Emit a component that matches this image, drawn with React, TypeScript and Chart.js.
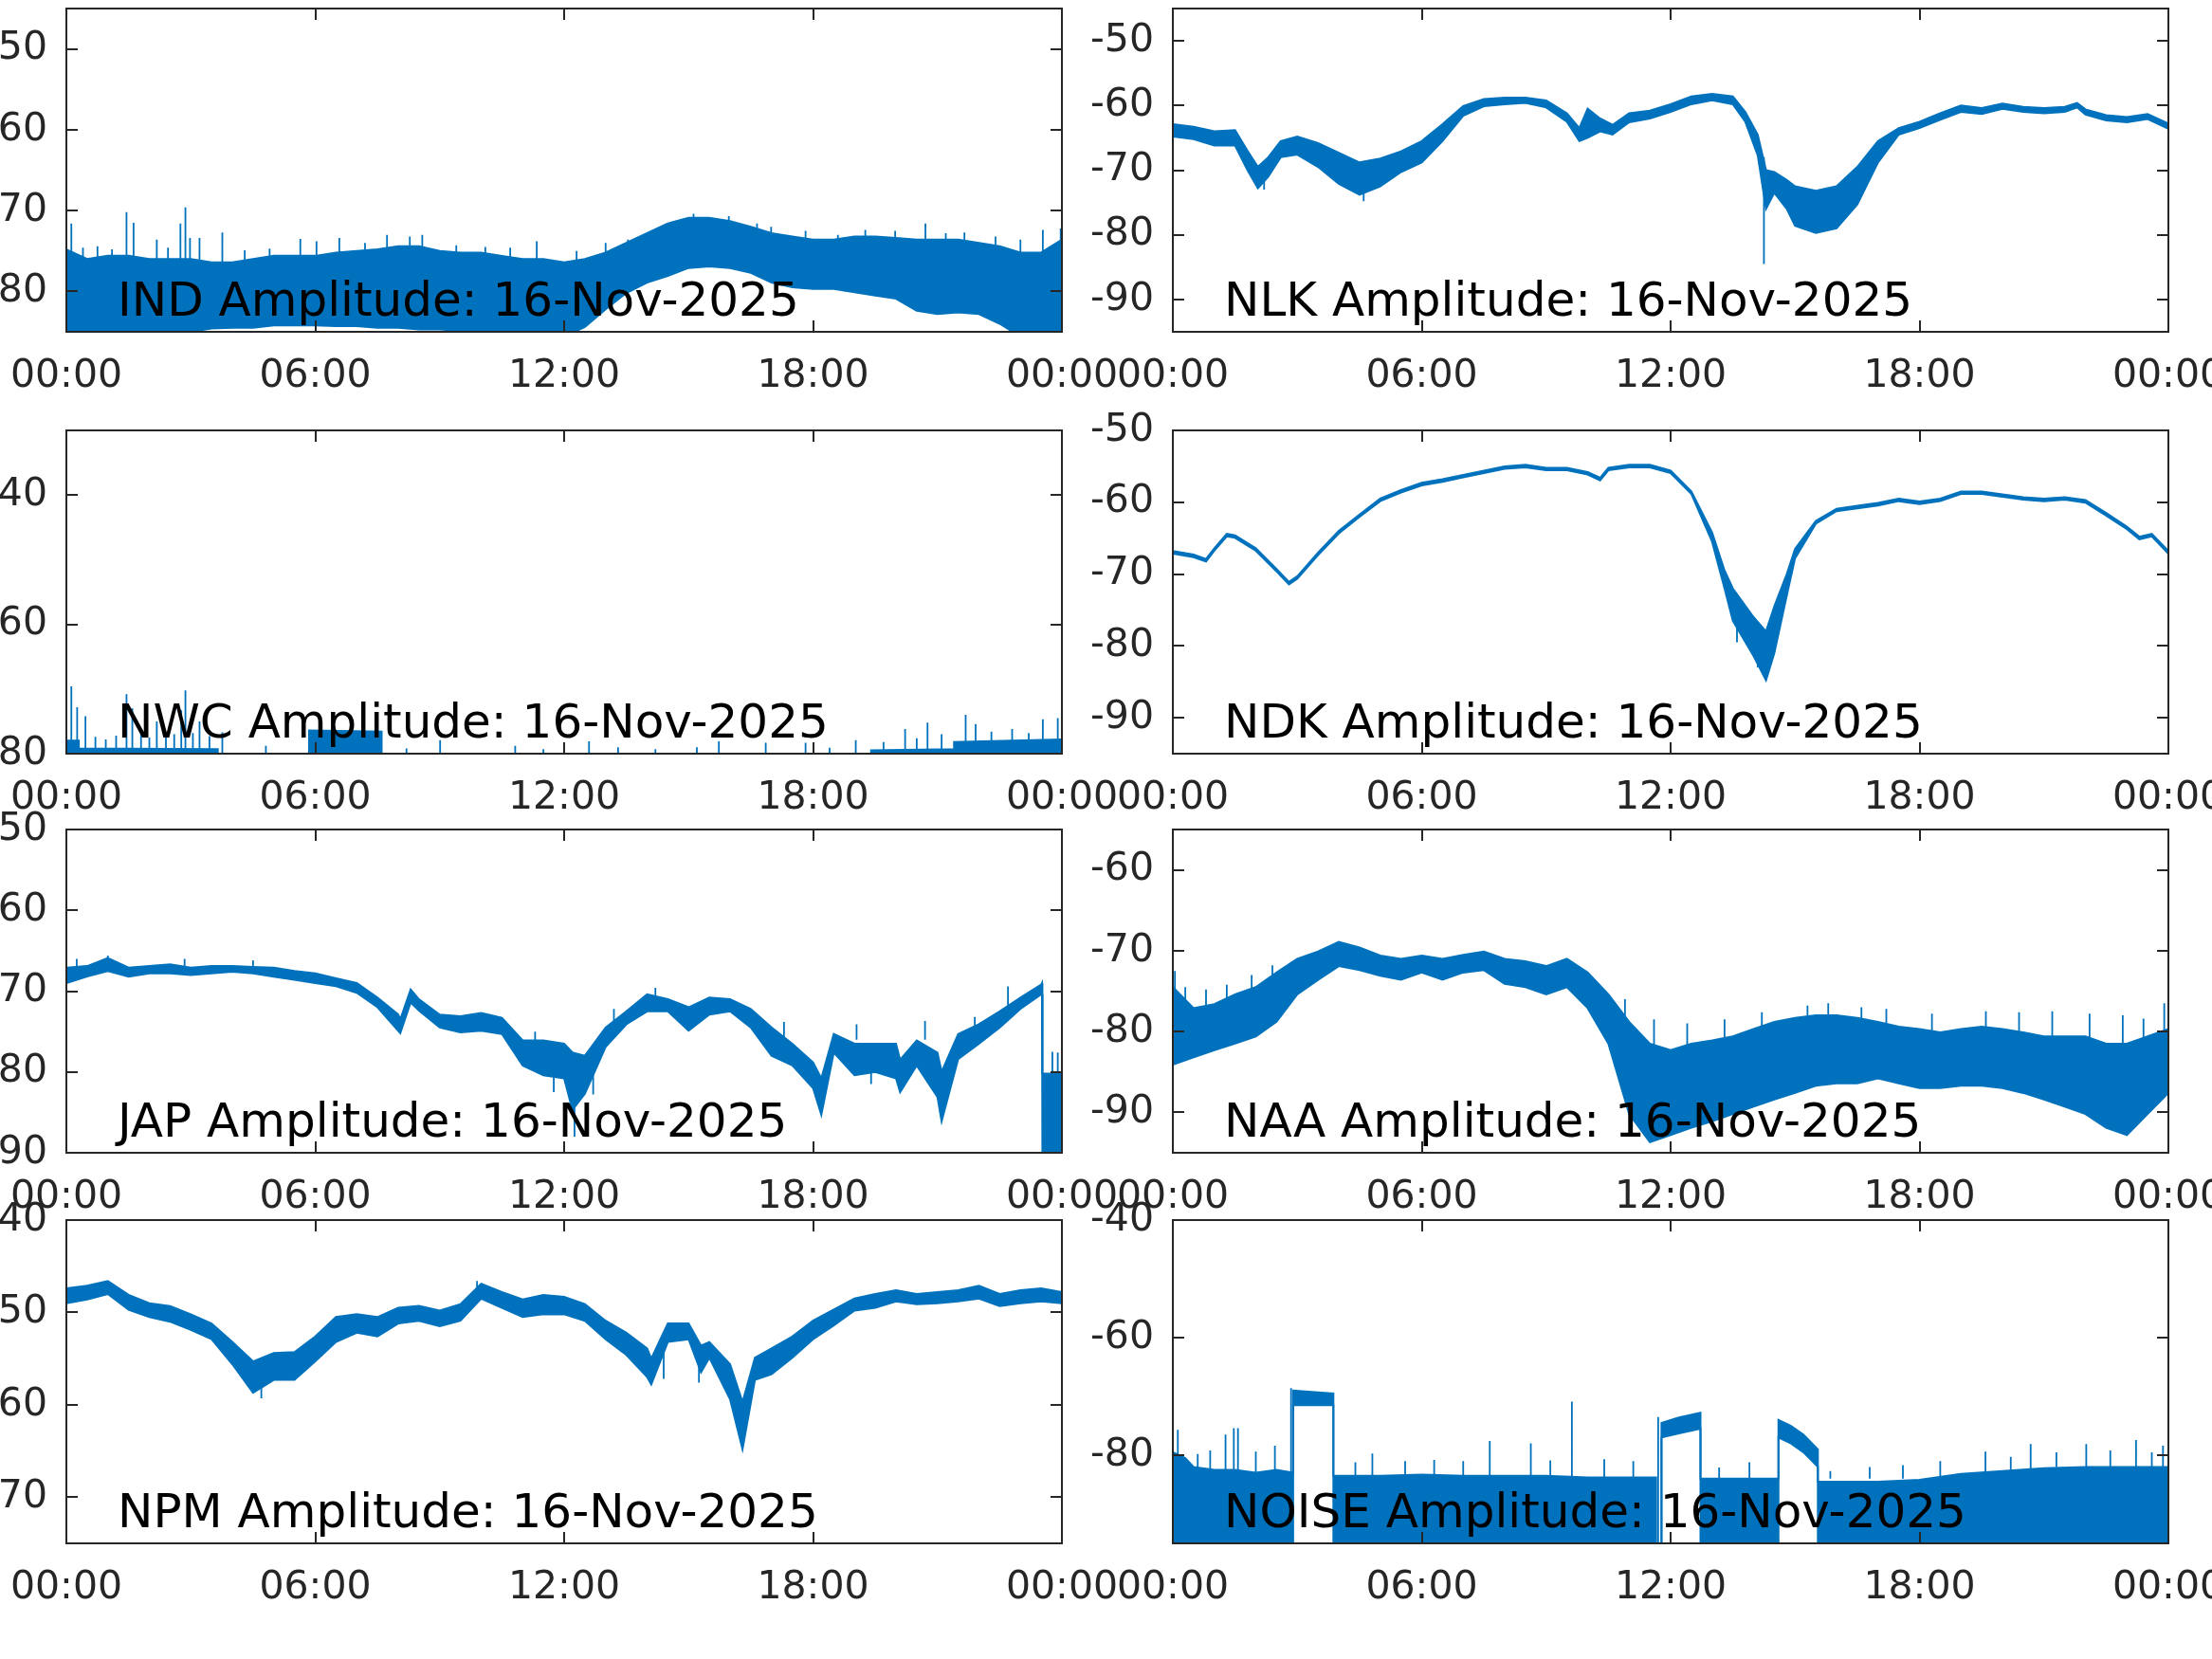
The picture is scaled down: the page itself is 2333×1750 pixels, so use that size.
import React, { useEffect, useRef } from "react";
import { Chart, registerables } from "chart.js";

Chart.register(...registerables);

// ---------------- shared axis data ----------------
const X_TICKS = [0, 6, 12, 18, 24];
const X_TICK_LABELS = ["00:00", "06:00", "12:00", "18:00", "00:00"];
const DATE_TEXT = "Amplitude: 16-Nov-2025";
const HALF_HOURS = [
  0, 0.5, 1, 1.5, 2, 2.5, 3, 3.5, 4, 4.5, 5, 5.5, 6, 6.5, 7, 7.5, 8, 8.5, 9, 9.5, 10, 10.5, 11, 11.5, 12,
  12.5, 13, 13.5, 14, 14.5, 15, 15.5, 16, 16.5, 17, 17.5, 18, 18.5, 19, 19.5, 20, 20.5, 21, 21.5, 22, 22.5,
  23, 23.5, 24,
];

// ---------------- IND ----------------
const IND_T = HALF_HOURS;
const IND_HI = [
  -74.8, -76, -75.6, -75.6, -76, -76, -76, -76.4, -76.4, -76, -75.6, -75.6, -75.6, -75.2, -75, -74.8, -74.4,
  -74.4, -75, -75.2, -75.2, -75.6, -76, -76, -76.4, -76, -75.2, -74, -72.8, -71.6, -70.9, -70.9, -71.3, -72,
  -72.8, -73.2, -73.6, -73.6, -73.2, -73.2, -73.4, -73.6, -73.6, -73.6, -74, -74.4, -75.2, -75.2, -73.6,
];
const IND_LO = [
  -86, -86, -86, -86, -86, -85.4, -85, -84.6, -84.5, -84.5, -84.2, -84.2, -84.2, -84.3, -84.3, -84.5,
  -84.5, -84.7, -84.7, -84.9, -84.9, -85.1, -85.3, -85.6, -85.6, -84.4, -82.2, -80.2, -78.9, -78.1, -77.1, -76.9,
  -77.1, -77.7, -78.9, -79.5, -79.7, -79.7, -80.1, -80.5, -80.9, -82.4, -82.8, -82.6, -82.8, -84.0, -85.6,
  -85.6, -85.6,
];
// [time, base, top]
const IND_SPIKES = [
  [0.12, -78, -71.6], [0.4, -78, -74.6], [0.75, -78, -74.4], [1.1, -78, -74.8], [1.45, -78, -70.2],
  [1.62, -78, -71.5], [2.18, -78, -73.6], [2.45, -78, -74.6], [2.75, -78, -71.6], [2.87, -78, -69.6],
  [2.98, -78, -73.4], [3.21, -78, -73.4], [3.76, -78, -72.7], [4.3, -78, -74.9], [4.9, -78, -74.7],
  [5.64, -78, -73.5], [6.03, -78, -73.8], [6.58, -78, -73.4], [7.2, -77, -74.0], [7.73, -77, -73.0],
  [8.28, -77, -73.2], [8.58, -77, -73.0], [9.4, -78, -74.3], [10.1, -78, -74.5], [10.7, -78, -74.6],
  [11.34, -78, -73.8], [12.3, -78, -75.0], [13.0, -77, -74.0], [13.54, -77, -73.6], [13.96, -75, -73.4],
  [14.4, -74, -71.8], [15.12, -73, -70.4], [15.97, -73, -70.7], [16.65, -74, -71.6], [16.99, -75, -72.0],
  [17.82, -75, -72.5], [18.6, -75, -73.0], [19.26, -75, -72.4], [19.98, -75, -72.5], [20.71, -75, -71.6],
  [21.2, -75, -72.8], [21.65, -75, -72.7], [22.4, -76, -73.2], [23.0, -77, -73.6], [23.54, -77, -72.4],
  [23.97, -77, -72.2],
];
const IND_Y_TICKS = [-80, -70, -60, -50];
const IND_Y_RANGE = [-85, -45];

// ---------------- NLK ----------------
const NLK_T = [
  0, 0.5, 1, 1.5, 1.8, 2.05, 2.3, 2.6, 3, 3.5, 4, 4.5, 5, 5.5, 6, 6.5, 7, 7.5, 8, 8.5, 9, 9.5, 9.8, 10, 10.3,
  10.6, 11, 11.5, 12, 12.5, 13, 13.5, 13.8, 14.1, 14.3, 14.5, 14.8, 15, 15.5, 16, 16.5, 17, 17.5, 18, 18.5,
  19, 19.5, 20, 20.5, 21, 21.5, 21.8, 22, 22.5, 23, 23.5, 24,
];
const NLK_HI = [
  -62.9, -63.3, -64.0, -63.8, -67.0, -69.5, -68.0, -65.5, -64.8, -65.8, -67.3, -68.8, -68.2, -67.1, -65.5,
  -62.9, -60.1, -59.0, -58.8, -58.8, -59.2, -61.2, -63.5, -60.5, -62.0, -63.0, -61.2, -60.8, -59.8, -58.6,
  -58.2, -58.6, -61.0, -64.5, -70.0, -70.3, -71.5, -72.5, -73.2, -72.5, -69.5, -65.5, -63.5, -62.5, -61.2,
  -60.0, -60.4, -59.7, -60.2, -60.4, -60.2, -59.6, -60.6, -61.5, -61.8, -61.3, -62.8,
];
const NLK_LO = [
  -64.8, -65.2, -66.2, -66.2, -70.0, -72.8, -71.0, -68.0, -67.6, -69.5, -72.1, -73.8, -72.5, -70.3, -68.8,
  -65.5, -61.6, -60.1, -59.8, -59.6, -60.3, -62.5, -65.5, -65.0, -64.0, -64.5, -62.6, -62.0, -61.0, -59.8,
  -59.2, -59.8, -62.5, -67.7, -76.0, -73.5, -76.0, -78.6, -79.7, -79.0, -75.3, -68.8, -64.5, -63.5, -62.2,
  -61.0, -61.3, -60.5, -61.0, -61.2, -61.0, -60.3, -61.4, -62.3, -62.6, -62.1, -63.6,
];
const NLK_SPIKES = [[14.25, -68, -84.5], [10.0, -63, -60.6], [2.2, -70, -73.0], [4.6, -72, -74.8]];
const NLK_Y_TICKS = [-90, -80, -70, -60, -50];
const NLK_Y_RANGE = [-95, -45];

// ---------------- NWC ----------------
const NWC_T = [0, 0.3, 0.3, 3.65, 3.65, 5.85, 5.85, 7.6, 7.6, 19.4, 19.4, 21.4, 21.4, 24];
const NWC_HI = [-78.0, -78.0, -79.2, -79.3, -82, -82, -76.4, -76.6, -82, -82, -79.5, -79.3, -78.2, -77.8];
const NWC_LO = [-83, -83, -83, -83, -83, -83, -83, -83, -83, -83, -83, -83, -83, -83];
const NWC_SPIKES = [
  [0.12, -81, -69.6], [0.26, -81, -72.8], [0.46, -81, -74.2], [0.7, -81, -77.4], [0.95, -81, -77.8],
  [1.2, -81, -77.2], [1.45, -81, -70.8], [1.59, -81, -73.0], [1.8, -81, -76.9], [2.0, -81, -77.5],
  [2.18, -81, -75.0], [2.4, -81, -76.6], [2.6, -81, -77.0], [2.77, -81, -73.3], [2.87, -81, -70.2],
  [3.05, -81, -76.8], [3.21, -81, -75.0], [3.45, -81, -77.3], [3.76, -81, -76.7], [4.81, -81, -78.8],
  [8.2, -81, -79.2], [9.01, -81, -77.9], [10.82, -81, -78.8], [11.5, -81, -79.3], [12.6, -81, -78.1],
  [13.3, -81, -79.0], [14.2, -81, -79.3], [15.2, -81, -79.0], [15.73, -81, -78.1], [16.86, -81, -78.3],
  [17.82, -81, -78.3], [18.4, -81, -79.1], [19.03, -81, -77.9], [19.7, -81, -78.2], [20.22, -81, -76.2],
  [20.5, -81, -77.6], [20.76, -81, -75.2], [21.1, -81, -77.0], [21.68, -81, -74.0], [21.92, -81, -75.4],
  [22.3, -81, -76.6], [22.8, -81, -76.2], [23.2, -81, -76.8], [23.54, -81, -74.7], [23.9, -81, -74.5],
];
const NWC_Y_TICKS = [-80, -60, -40];
const NWC_Y_RANGE = [-80, -30];

// ---------------- NDK ----------------
const NDK_T = [
  0, 0.5, 0.8, 1, 1.3, 1.5, 2, 2.5, 2.8, 3, 3.5, 4, 4.5, 5, 5.5, 6, 6.5, 7, 7.5, 8, 8.5, 9, 9.5, 10, 10.3, 10.5,
  11, 11.5, 12, 12.5, 13, 13.3, 13.5, 14, 14.3, 14.5, 14.8, 15, 15.5, 16, 16.5, 17, 17.5, 18, 18.5, 19, 19.5,
  20, 20.5, 21, 21.5, 22, 22.5, 23, 23.3, 23.6, 24,
];
const NDK_HI = [
  -66.8, -67.3, -67.9, -66.4, -64.4, -64.6, -66.4, -69.3, -71.1, -70.3, -67.0, -64.0, -61.7, -59.5, -58.3,
  -57.3, -56.8, -56.2, -55.6, -55.0, -54.8, -55.2, -55.2, -55.8, -56.6, -55.2, -54.8, -54.8, -55.6, -58.5,
  -64.2, -69.5, -72.0, -76.0, -78.0, -74.5, -70.0, -66.5, -62.6, -60.9, -60.5, -60.1, -59.5, -59.9, -59.5,
  -58.5, -58.5, -58.9, -59.3, -59.5, -59.3, -59.7, -61.5, -63.4, -64.8, -64.4, -66.8,
];
const NDK_LO = [
  -67.15, -67.65, -68.25, -66.75, -64.75, -64.95, -66.75, -69.65, -71.45, -70.65, -67.35, -64.35, -62.05,
  -59.85, -58.65, -57.65, -57.15, -56.55, -55.95, -55.35, -55.15, -55.55, -55.55, -56.15, -56.95, -55.55,
  -55.15, -55.15, -55.95, -58.85, -65.5, -72.0, -76.5, -81.4, -84.8, -81.0, -73.0, -67.8, -63.0, -61.25,
  -60.85, -60.45, -59.85, -60.25, -59.85, -58.85, -58.85, -59.25, -59.65, -59.85, -59.65, -60.05, -61.85,
  -63.75, -65.15, -64.75, -67.15,
];
const NDK_SPIKES = [[13.6, -76, -79.5], [14.1, -79, -83.0]];
const NDK_Y_TICKS = [-90, -80, -70, -60, -50];
const NDK_Y_RANGE = [-95, -50];

// ---------------- JAP ----------------
const JAP_T = [
  0, 0.5, 1, 1.5, 2, 2.5, 3, 3.5, 4, 4.5, 5, 5.5, 6, 6.5, 7, 7.5, 8, 8.05, 8.3, 8.5, 9, 9.5, 10, 10.5, 11, 11.5,
  12, 12.2, 12.5, 13, 13.5, 14, 14.5, 15, 15.5, 16, 16.5, 17, 17.5, 18, 18.2, 18.5, 19, 19.5, 20, 20.1, 20.5,
  21, 21.1, 21.5, 22, 22.5, 23, 23.5, 23.52, 23.53, 24,
];
const JAP_HI = [
  -67.1, -66.9, -65.9, -67.1, -66.9, -66.7, -67.1, -66.9, -66.9, -67.0, -67.1, -67.5, -67.8, -68.4, -69.0,
  -70.8, -72.9, -73.5, -69.8, -71.0, -72.9, -73.1, -72.7, -73.3, -76.1, -76.1, -76.5, -77.6, -78.0, -74.5,
  -72.5, -70.4, -71.0, -72.0, -70.8, -71.0, -72.2, -74.5, -76.5, -78.8, -80.8, -75.3, -76.5, -76.5, -76.5,
  -78.5, -76.1, -77.6, -80.0, -75.3, -74.1, -72.5, -70.8, -69.2, -69.0, -80.2, -80.2,
];
const JAP_LO = [
  -69.0, -68.2, -67.5, -68.2, -67.8, -67.8, -68.0, -67.8, -67.6, -67.8, -68.2, -68.6, -69.0, -69.4, -70.2,
  -72.0, -74.9, -75.2, -71.4, -72.4, -74.5, -75.1, -74.9, -75.3, -79.2, -80.4, -80.8, -84.7, -82.7, -76.9,
  -74.1, -72.5, -72.5, -74.9, -72.9, -72.5, -74.5, -78.0, -79.2, -82.0, -85.3, -77.6, -80.4, -80.0, -80.8,
  -82.5, -79.2, -83.1, -86.1, -78.4, -76.5, -74.5, -72.2, -70.4, -70.4, -91, -91,
];
const JAP_SPIKES = [
  [0.25, -68, -66.0], [1.0, -67, -65.6], [2.85, -67, -66.0], [4.5, -67, -66.2], [11.3, -78, -75.0],
  [11.75, -79, -82.5], [12.25, -80, -88.0], [12.7, -79, -82.8], [13.2, -74, -72.2], [14.2, -71, -69.6],
  [17.3, -76, -73.8], [19.05, -76, -74.1], [19.4, -78, -81.5], [20.7, -76, -73.7], [21.9, -75, -73.2],
  [22.7, -72, -69.4], [23.77, -82, -77.5], [23.9, -82, -77.6],
];
const JAP_Y_TICKS = [-90, -80, -70, -60, -50];
const JAP_Y_RANGE = [-90, -50];

// ---------------- NAA ----------------
const NAA_T = HALF_HOURS;
const NAA_HI = [
  -74.5, -77.1, -76.6, -75.4, -74.5, -72.7, -71.0, -70.1, -68.9, -69.6, -70.6, -71.0, -70.6, -71.0, -70.5,
  -70.1, -71.0, -71.3, -71.9, -71.0, -72.7, -75.4, -78.8, -81.5, -82.3, -81.5, -81.1, -80.6, -79.7, -78.8,
  -78.3, -78.0, -78.0, -78.3, -78.8, -79.4, -79.7, -80.1, -79.7, -79.4, -79.7, -80.1, -80.6, -80.6, -80.6,
  -81.5, -81.5, -80.6, -79.7,
];
const NAA_LO = [
  -84.1, -83.2, -82.3, -81.5, -80.6, -78.8, -75.4, -73.6, -71.9, -72.4, -73.1, -73.6, -72.7, -73.6, -72.7,
  -72.4, -74.1, -74.5, -75.4, -74.5, -77.1, -81.5, -90.2, -93.7, -92.8, -91.9, -91.1, -90.2, -89.3, -88.4,
  -87.6, -86.7, -86.4, -86.4, -85.8, -86.4, -87.0, -87.0, -86.7, -86.7, -87.0, -87.6, -88.4, -89.3, -90.2,
  -91.9, -92.8, -90.2, -87.6,
];
const NAA_SPIKES = [
  [0.05, -78, -72.5], [0.3, -78, -74.5], [0.8, -78, -74.8], [1.3, -78, -74.2], [1.9, -77, -73.0],
  [2.4, -76, -71.8], [10.9, -80, -76.0], [11.6, -84, -78.5], [12.4, -84, -79.0], [13.3, -83, -78.5],
  [14.2, -82, -77.6], [15.3, -80, -76.8], [15.8, -80, -76.5], [16.6, -81, -77.0], [17.2, -81, -77.2],
  [18.3, -82, -77.8], [19.6, -81, -77.5], [20.4, -82, -77.6], [21.2, -82, -77.5], [22.1, -82, -77.8],
  [22.9, -83, -78.0], [23.4, -83, -78.4], [23.9, -82, -76.5],
];
const NAA_Y_TICKS = [-90, -80, -70, -60];
const NAA_Y_RANGE = [-95, -55];

// ---------------- NPM ----------------
const NPM_T = [
  0, 0.5, 1, 1.5, 2, 2.5, 3, 3.5, 4, 4.5, 5, 5.5, 6, 6.5, 7, 7.5, 8, 8.5, 9, 9.5, 10, 10.5, 11, 11.5, 12, 12.5,
  13, 13.5, 14, 14.1, 14.5, 15, 15.3, 15.5, 16, 16.3, 16.6, 17, 17.5, 18, 18.5, 19, 19.5, 20, 20.5, 21, 21.5,
  22, 22.5, 23, 23.5, 24,
];
const NPM_HI = [
  -47.4, -47.1, -46.6, -48.1, -49.0, -49.3, -50.2, -51.2, -53.2, -55.3, -54.4, -54.3, -52.6, -50.5, -50.2,
  -50.5, -49.5, -49.3, -49.8, -49.1, -46.9, -47.8, -48.6, -48.1, -48.3, -49.1, -50.9, -52.2, -53.9, -55.0,
  -51.2, -51.2, -53.6, -53.2, -55.6, -59.7, -54.9, -53.9, -52.6, -50.9, -49.7, -48.5, -48.0, -47.6, -48.0,
  -47.8, -47.6, -47.1, -48.0, -47.6, -47.4, -47.8,
];
const NPM_LO = [
  -49.0, -48.6, -48.0, -49.7, -50.5, -51.0, -51.9, -52.9, -55.6, -58.7, -57.3, -57.3, -55.3, -53.2, -52.2,
  -52.6, -51.2, -50.9, -51.5, -50.9, -48.5, -49.5, -50.5, -50.2, -50.2, -50.9, -52.9, -54.6, -57.0, -57.8,
  -53.2, -52.9, -56.5, -54.9, -59.4, -64.8, -57.3, -56.7, -54.9, -52.9, -51.4, -49.8, -49.5, -48.8, -49.1,
  -49.0, -48.8, -48.5, -49.3, -49.0, -48.8, -49.0,
];
const NPM_SPIKES = [[9.9, -48, -46.6], [14.4, -54, -57.2], [15.25, -55, -57.6], [4.7, -57, -59.3]];
const NPM_Y_TICKS = [-70, -60, -50, -40];
const NPM_Y_RANGE = [-75, -40];

// ---------------- NOISE ----------------
const NOISE_T = [
  0, 0.3, 0.5, 1, 1.5, 2, 2.5, 2.9, 2.9, 3.87, 3.87, 5, 6, 7, 8, 9, 10, 11, 11.65, 11.65, 11.78, 11.78, 12.2,
  12.72, 12.72, 13.5, 14.6, 14.6, 14.9, 15.2, 15.55, 15.55, 16, 17, 18, 19, 20, 21, 22, 23, 24,
];
const NOISE_HI = [
  -79.5, -80.5, -82, -82.5, -82.5, -83, -82.5, -83, -69, -69.5, -83.5, -83.5, -83.3, -83.5, -83.5, -83.5,
  -83.8, -83.8, -83.8, -96, -96, -74.5, -73.6, -72.8, -84, -84, -84, -74, -75, -76.5, -79, -84.5, -84.5,
  -84.5, -84.2, -83.2, -82.7, -82.2, -82, -82, -82,
];
const NOISE_LO = [
  -96, -96, -96, -96, -96, -96, -96, -96, -71.5, -71.5, -96, -96, -96, -96, -96, -96, -96, -96, -96, -96, -96,
  -77, -76.3, -75.5, -96, -96, -96, -77, -78, -79.5, -82, -96, -96, -96, -96, -96, -96, -96, -96, -96, -96,
];
const NOISE_SPIKES = [
  [0.12, -82, -75.7], [0.6, -83, -79.8], [0.9, -83, -79.2], [1.27, -83, -76.5], [1.47, -83, -75.4],
  [1.57, -83, -75.4], [2.0, -83, -79.4], [2.46, -83, -78.4], [2.85, -96, -68.6], [4.4, -84, -81.2],
  [4.81, -84, -79.7], [5.6, -84, -81.0], [6.3, -84, -80.8], [7.0, -84, -81.0], [7.64, -84, -77.6],
  [8.63, -84, -78.0], [9.1, -84, -80.9], [9.62, -84, -70.9], [10.4, -84, -80.7], [11.1, -84, -81.0],
  [11.7, -96, -73.5], [13.17, -84, -82.1], [13.9, -84, -81.2], [15.85, -84, -82.7], [16.8, -84, -82.0],
  [17.6, -84, -81.7], [18.5, -84, -81.0], [19.59, -83, -79.4], [20.2, -83, -80.3], [20.68, -83, -78.1],
  [21.3, -82, -79.5], [22.02, -82, -78.1], [22.6, -82, -79.2], [23.22, -82, -77.4], [23.6, -82, -79.5],
  [23.87, -82, -78.4],
];
const NOISE_Y_TICKS = [-80, -60, -40];
const NOISE_Y_RANGE = [-95, -40];

// ---------------- layout / style ----------------
const BLUE = "#0072BD";
const AXIS_COLOR = "#262626";
const FONT = "'DejaVu Sans', 'Noto Sans', sans-serif";
const ROW_TOP = [9, 454, 875, 1287];
const ROW_BOTTOM = [350, 795, 1216, 1628];
const COL_LEFT = [70, 1237];
const COL_RIGHT = [1120, 2287];
const CANVAS_X = [0, 1130];
const CANVAS_W = [1200, 1270];
const PAD_TOP = 40;
const PAD_BOTTOM = 100;
const TICK_LEN = 12;

type Panel = {
  name: string;
  t: number[];
  hi: number[];
  lo: number[];
  spikes: number[][];
  yTicks: number[];
  yRange: number[];
  row: number;
  col: number;
};

const PANELS: Panel[] = [
  { name: "IND", t: IND_T, hi: IND_HI, lo: IND_LO, spikes: IND_SPIKES, yTicks: IND_Y_TICKS, yRange: IND_Y_RANGE, row: 0, col: 0 },
  { name: "NLK", t: NLK_T, hi: NLK_HI, lo: NLK_LO, spikes: NLK_SPIKES, yTicks: NLK_Y_TICKS, yRange: NLK_Y_RANGE, row: 0, col: 1 },
  { name: "NWC", t: NWC_T, hi: NWC_HI, lo: NWC_LO, spikes: NWC_SPIKES, yTicks: NWC_Y_TICKS, yRange: NWC_Y_RANGE, row: 1, col: 0 },
  { name: "NDK", t: NDK_T, hi: NDK_HI, lo: NDK_LO, spikes: NDK_SPIKES, yTicks: NDK_Y_TICKS, yRange: NDK_Y_RANGE, row: 1, col: 1 },
  { name: "JAP", t: JAP_T, hi: JAP_HI, lo: JAP_LO, spikes: JAP_SPIKES, yTicks: JAP_Y_TICKS, yRange: JAP_Y_RANGE, row: 2, col: 0 },
  { name: "NAA", t: NAA_T, hi: NAA_HI, lo: NAA_LO, spikes: NAA_SPIKES, yTicks: NAA_Y_TICKS, yRange: NAA_Y_RANGE, row: 2, col: 1 },
  { name: "NPM", t: NPM_T, hi: NPM_HI, lo: NPM_LO, spikes: NPM_SPIKES, yTicks: NPM_Y_TICKS, yRange: NPM_Y_RANGE, row: 3, col: 0 },
  { name: "NOISE", t: NOISE_T, hi: NOISE_HI, lo: NOISE_LO, spikes: NOISE_SPIKES, yTicks: NOISE_Y_TICKS, yRange: NOISE_Y_RANGE, row: 3, col: 1 },
];

const boxPlugin = {
  id: "matlabBox",
  afterDraw(chart: any, _args: any, opts: any) {
    const { ctx, chartArea: a, scales } = chart;
    const xs = scales.x;
    const ys = scales.y;
    ctx.save();
    ctx.strokeStyle = AXIS_COLOR;
    ctx.lineWidth = 2;
    ctx.beginPath();
    for (const tk of xs.ticks) {
      const px = Math.round(xs.getPixelForValue(tk.value));
      ctx.moveTo(px, a.bottom);
      ctx.lineTo(px, a.bottom - TICK_LEN);
      ctx.moveTo(px, a.top);
      ctx.lineTo(px, a.top + TICK_LEN);
    }
    for (const tk of ys.ticks) {
      const py = Math.round(ys.getPixelForValue(tk.value));
      ctx.moveTo(a.left, py);
      ctx.lineTo(a.left + TICK_LEN, py);
      ctx.moveTo(a.right, py);
      ctx.lineTo(a.right - TICK_LEN, py);
    }
    ctx.stroke();
    ctx.strokeRect(a.left, a.top, a.right - a.left, a.bottom - a.top);
    ctx.fillStyle = "#000000";
    ctx.font = `50px ${FONT}`;
    ctx.textAlign = "left";
    ctx.textBaseline = "alphabetic";
    ctx.fillText(opts.label, a.left + 54, a.bottom - 17);
    ctx.restore();
  },
};

function PanelChart({ p }: { p: Panel }) {
  const ref = useRef<HTMLCanvasElement>(null);
  const cx = CANVAS_X[p.col];
  const cw = CANVAS_W[p.col];
  const top = ROW_TOP[p.row] - PAD_TOP;
  const ch = ROW_BOTTOM[p.row] - ROW_TOP[p.row] + PAD_TOP + PAD_BOTTOM;
  const yAxisWidth = COL_LEFT[p.col] - cx;

  useEffect(() => {
    if (!ref.current) return;
    const spikeData: any[] = [];
    for (const s of p.spikes) {
      spikeData.push({ x: s[0], y: s[1] }, { x: s[0], y: s[2] }, { x: s[0], y: null });
    }
    const chart = new Chart(ref.current, {
      type: "line",
      data: {
        datasets: [
          {
            data: p.t.map((x, i) => ({ x, y: p.hi[i] })),
            borderColor: BLUE,
            backgroundColor: BLUE,
            borderWidth: 2,
            pointRadius: 0,
            fill: "+1",
            tension: 0,
          },
          {
            data: p.t.map((x, i) => ({ x, y: p.lo[i] })),
            borderColor: BLUE,
            backgroundColor: BLUE,
            borderWidth: 2,
            pointRadius: 0,
            fill: false,
            tension: 0,
          },
          {
            data: spikeData,
            borderColor: BLUE,
            borderWidth: 1.8,
            pointRadius: 0,
            fill: false,
            spanGaps: false,
            tension: 0,
          },
        ],
      },
      options: {
        animation: false,
        responsive: false,
        devicePixelRatio: 1,
        events: [],
        layout: {
          padding: {
            left: 0,
            right: cx + cw - COL_RIGHT[p.col],
            top: PAD_TOP,
            bottom: 0,
          },
        },
        plugins: {
          legend: { display: false },
          tooltip: { enabled: false },
          matlabBox: { label: `${p.name} ${DATE_TEXT}` },
        } as any,
        scales: {
          x: {
            type: "linear",
            min: 0,
            max: 24,
            grid: { display: false, drawTicks: false },
            border: { display: false },
            afterBuildTicks: (scale: any) => {
              scale.ticks = X_TICKS.map((v) => ({ value: v }));
            },
            afterFit: (scale: any) => {
              scale.height = PAD_BOTTOM;
              scale.paddingLeft = 0;
              scale.paddingRight = 0;
            },
            ticks: {
              autoSkip: false,
              maxRotation: 0,
              minRotation: 0,
              padding: 23,
              color: AXIS_COLOR,
              font: { family: FONT, size: 41 },
              callback: (_v: any, i: number) => X_TICK_LABELS[i],
            },
          },
          y: {
            type: "linear",
            min: p.yRange[0],
            max: p.yRange[1],
            grid: { display: false, drawTicks: false },
            border: { display: false },
            afterBuildTicks: (scale: any) => {
              scale.ticks = p.yTicks.map((v) => ({ value: v }));
            },
            afterFit: (scale: any) => {
              scale.width = yAxisWidth;
              scale.paddingTop = 0;
              scale.paddingBottom = 0;
            },
            ticks: {
              autoSkip: false,
              padding: 20,
              color: AXIS_COLOR,
              font: { family: FONT, size: 41 },
              callback: (v: any) => String(v),
            },
          },
        },
      },
      plugins: [boxPlugin],
    } as any);
    return () => chart.destroy();
  }, []);

  return (
    <canvas
      ref={ref}
      width={cw}
      height={ch}
      style={{ position: "absolute", left: cx, top, width: cw, height: ch }}
    />
  );
}

export default function App() {
  return (
    <div
      style={{
        position: "absolute",
        left: 0,
        top: 0,
        width: 2333,
        height: 1750,
        overflow: "hidden",
        background: "#ffffff",
      }}
    >
      {PANELS.map((p) => (
        <PanelChart key={p.name} p={p} />
      ))}
    </div>
  );
}
